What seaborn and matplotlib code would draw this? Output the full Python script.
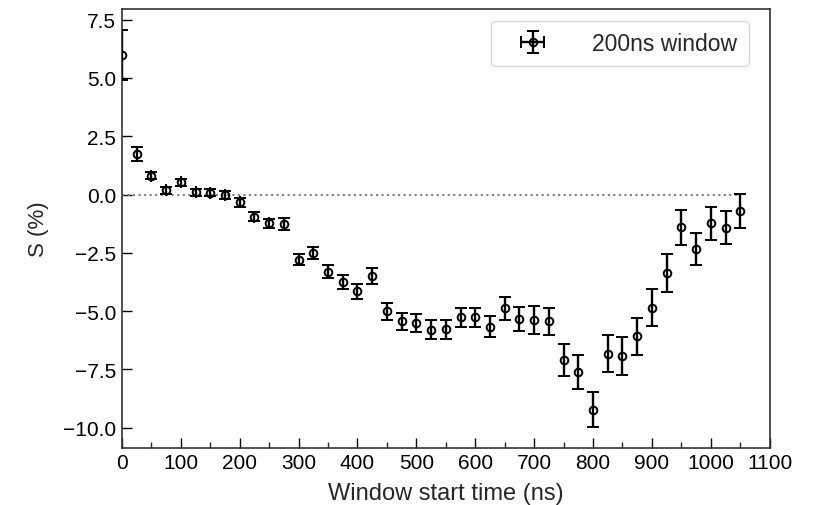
import numpy as np
import matplotlib
matplotlib.use("Agg")
import matplotlib.pyplot as plt
from matplotlib.ticker import MultipleLocator
import seaborn as sns
import pandas as pd

# window start times (ns) and asymmetry S (%) with errors
start_ns = [0, 25, 50, 75, 100, 125, 150, 175, 200, 225, 250, 275, 300, 325, 350,
            375, 400, 425, 450, 475, 500, 525, 550, 575, 600, 625, 650, 675, 700,
            725, 750, 775, 800, 825, 850, 875, 900, 925, 950, 975, 1000, 1025, 1050]
s_pct = [5.98, 1.74, 0.80, 0.19, 0.53, 0.09, 0.08, -0.03, -0.34, -0.95, -1.24, -1.26,
         -2.79, -2.50, -3.30, -3.77, -4.15, -3.50, -5.01, -5.44, -5.51, -5.80, -5.77,
         -5.26, -5.26, -5.66, -4.87, -5.33, -5.38, -5.44, -7.09, -7.62, -9.22, -6.83,
         -6.92, -6.08, -4.85, -3.35, -1.41, -2.32, -1.24, -1.42, -0.71]
s_err = [1.07, 0.30, 0.15, 0.15, 0.15, 0.15, 0.15, 0.17, 0.18, 0.18, 0.20, 0.25,
         0.25, 0.26, 0.28, 0.30, 0.31, 0.35, 0.38, 0.38, 0.37, 0.40, 0.41, 0.41,
         0.41, 0.45, 0.49, 0.51, 0.58, 0.59, 0.67, 0.73, 0.75, 0.80, 0.80, 0.80,
         0.80, 0.81, 0.75, 0.69, 0.69, 0.70, 0.73]

df = pd.DataFrame({'t': start_ns, 's': s_pct, 'err': s_err})

sns.set_style('ticks')
plt.rcParams['font.family'] = ['Liberation Sans', 'DejaVu Sans']

fig = plt.figure(figsize=(8.18, 5.06), dpi=100)
ax = fig.add_axes([0.149, 0.113, 0.792, 0.867])

ax.axhline(0, xmin=0, xmax=1050 / 1100, color='grey', ls=':', lw=1.5, zorder=1)
ax.errorbar(df['t'], df['s'], yerr=df['err'], xerr=np.zeros(len(df)), fmt='o',
            mfc='none', mec='black', ms=5.5, mew=1.4, ecolor='black', elinewidth=1.7,
            capsize=4.5, capthick=1.7, color='black', label='200ns window', zorder=3)

ax.set_xlim(0, 1100)
ax.set_ylim(-10.86, 7.95)
ax.xaxis.set_major_locator(MultipleLocator(100))
ax.xaxis.set_minor_locator(MultipleLocator(50))
ax.yaxis.set_major_locator(MultipleLocator(2.5))
ax.tick_params(axis='both', which='major', direction='in', length=7, width=1,
               labelsize=15, colors='black', pad=4)
ax.tick_params(axis='x', which='minor', direction='in', length=4, width=1)
for sp in ax.spines.values():
    sp.set_linewidth(1.2)
    sp.set_color('#333333')

ax.set_xlabel('Window start time (ns)', fontsize=17, labelpad=7)
ax.set_ylabel('S (%)', fontsize=16, labelpad=10)
ax.legend(loc='upper right', fontsize=16.5, frameon=True, fancybox=True,
          borderpad=0.5, handletextpad=1.3, handlelength=2.6,
          bbox_to_anchor=(0.985, 1.0))

fig.savefig('out.png', dpi=100)
